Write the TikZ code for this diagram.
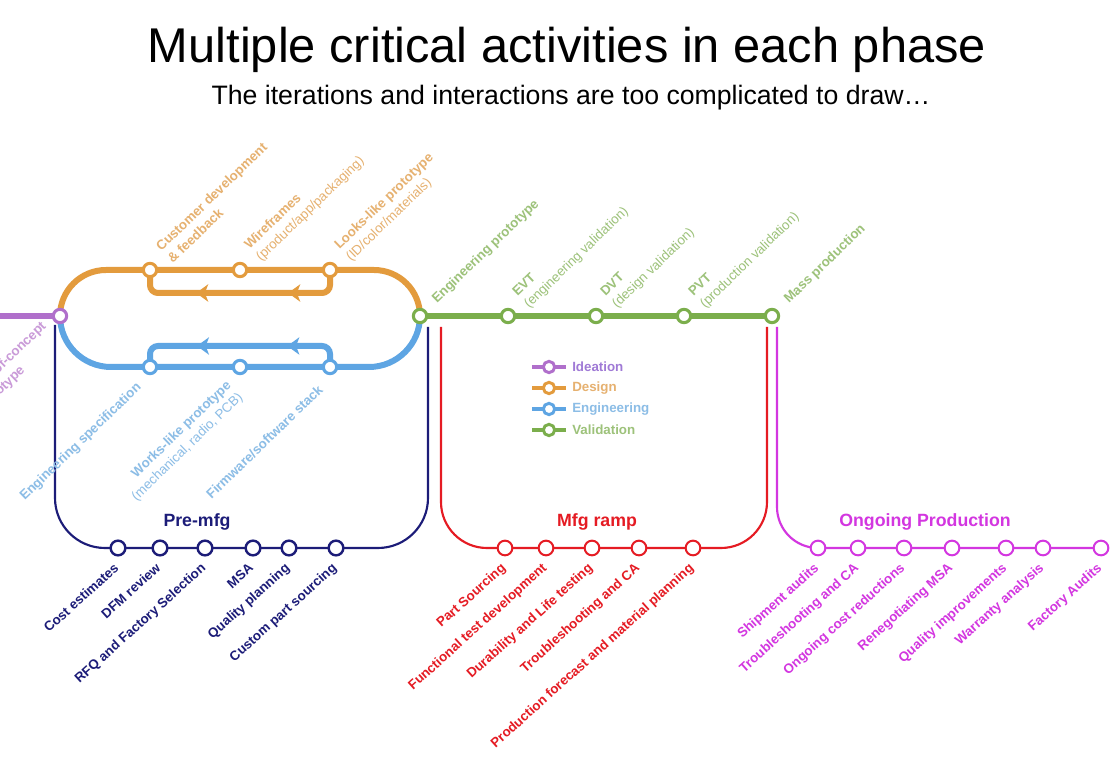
\documentclass[tikz,border=0pt]{standalone}
\usepackage{fontspec}
\setmainfont{Liberation Sans}
\usetikzlibrary{arrows.meta,decorations.markings}
\definecolor{cPurple}{HTML}{B06FCB}
\definecolor{cPurpleT}{HTML}{C99AD8}
\definecolor{cLegPurple}{HTML}{A07AD6}
\definecolor{cOrange}{HTML}{E39B3D}
\definecolor{cOrangeT}{HTML}{E6B170}
\definecolor{cBlue}{HTML}{5EA5E3}
\definecolor{cBlueT}{HTML}{8CBDE6}
\definecolor{cGreen}{HTML}{7BAE4C}
\definecolor{cGreenT}{HTML}{9DC27A}
\definecolor{cNavy}{HTML}{1C1C78}
\definecolor{cRed}{HTML}{E51B23}
\definecolor{cMag}{HTML}{D336E0}
\begin{document}
\begin{tikzpicture}[x=0.75pt,y=-0.75pt,
  fatline/.style={line width=4.5pt},
  thinline/.style={line width=1.6pt},
  bigstn/.style={circle, draw, fill=white, line width=2.3pt, minimum size=10pt, inner sep=0pt},
  smallstn/.style={circle, draw, fill=white, line width=1.5pt, minimum size=11pt, inner sep=0pt},
  toplab/.style={rotate=44, anchor=south west, align=left, inner sep=1pt, font=\bfseries\fontsize{10pt}{12.5pt}\selectfont},
  blulab/.style={rotate=44, anchor=north east, align=right, inner sep=1pt, font=\bfseries\fontsize{10pt}{12.5pt}\selectfont},
  botlab/.style={rotate=42, anchor=north east, inner sep=1pt, font=\bfseries\fontsize{10pt}{12pt}\selectfont},
  phase/.style={font=\bfseries\fontsize{13.3pt}{16pt}\selectfont},
  legtext/.style={anchor=west, inner sep=0pt, font=\bfseries\fontsize{10pt}{12pt}\selectfont},
  legstn/.style={circle, draw, fill=white, line width=2.2pt, minimum size=8.5pt, inner sep=0pt},
  backarrows/.style={postaction={decorate, decoration={markings,
     mark=at position 0.28 with {\arrow{Stealth[length=9pt,width=13pt,inset=2.5pt]}},
     mark=at position 0.70 with {\arrow{Stealth[length=9pt,width=13pt,inset=2.5pt]}}}}}
]
\useasboundingbox (0,0) rectangle (1118,762);
\fill[white] (0,0) rectangle (1118,762);
\begin{scope}
\clip (0,0) rectangle (1118,762);

% titles
\node[font=\fontsize{36.6pt}{40pt}\selectfont] (title) at (567,50) {Multiple critical activities in each phase};
\node[font=\fontsize{20pt}{24pt}\selectfont] (subtitle) at (571,98) {The iterations and interactions are too complicated to draw…};

% coordinates
\coordinate (pL) at (0,316);
\coordinate (P) at (60,316);
\coordinate (o1) at (150,270);
\coordinate (o2) at (240,270);
\coordinate (o3) at (330,270);
\coordinate (oloop) at (240,293);
\coordinate (b1) at (150,367);
\coordinate (b2) at (240,367);
\coordinate (b3) at (330,367);
\coordinate (bloop) at (240,346);
\coordinate (G1) at (420,316);
\coordinate (G2) at (508,316);
\coordinate (G3) at (596,316);
\coordinate (G4) at (684,316);
\coordinate (G5) at (772,316);
\coordinate (nTL) at (55,325);
\coordinate (nTR) at (428,327);
\coordinate (n1) at (118,548);
\coordinate (n2) at (160,548);
\coordinate (n3) at (205,548);
\coordinate (n4) at (253,548);
\coordinate (n5) at (289,548);
\coordinate (n6) at (336,548);
\coordinate (rTL) at (441,327);
\coordinate (rTR) at (767,327);
\coordinate (r1) at (505,548);
\coordinate (r2) at (546,548);
\coordinate (r3) at (592,548);
\coordinate (r4) at (639,548);
\coordinate (r5) at (693,548);
\coordinate (mT) at (777,327);
\coordinate (m1) at (818,548);
\coordinate (m2) at (858,548);
\coordinate (m3) at (904,548);
\coordinate (m4) at (952,548);
\coordinate (m5) at (1006,548);
\coordinate (m6) at (1043,548);
\coordinate (m7) at (1101,548);

% lines
\draw[fatline, cPurple] (pL) -- (P);
\draw[fatline, cOrange] (P) arc[start angle=180, end angle=270, radius=46] -- (o1) -- (o2) -- (o3) -- (374,270) arc[start angle=270, end angle=360, radius=46];
\draw[fatline, cOrange, rounded corners=6, backarrows] (o3) |- (oloop) -| (o1);
\draw[fatline, cBlue] (P) arc[start angle=180, end angle=90, radius=51] -- (b1) -- (b2) -- (b3) -- (369,367) arc[start angle=90, end angle=0, radius=51];
\draw[fatline, cBlue, rounded corners=6, backarrows] (b3) |- (bloop) -| (b1);
\draw[fatline, cGreen] (G1) -- (G5);
\draw[thinline, cNavy] (nTL) -- (55,498) arc[start angle=180, end angle=90, radius=50] -- (n1) -- (n6) -- (378,548) arc[start angle=90, end angle=0, radius=50] -- (nTR);
\draw[thinline, cRed] (rTL) -- (441,502) arc[start angle=180, end angle=90, radius=46] -- (r1) -- (r5) -- (721,548) arc[start angle=90, end angle=0, radius=46] -- (rTR);
\draw[thinline, cMag] (mT) -- (777,507) arc[start angle=180, end angle=90, radius=41] -- (m7);

% stations
\node[bigstn, draw=cPurple] (sP) at (P) {};
\foreach \c in {o1,o2,o3} \node[bigstn, draw=cOrange] (s\c) at (\c) {};
\foreach \c in {b1,b2,b3} \node[bigstn, draw=cBlue] (s\c) at (\c) {};
\foreach \c in {G1,G2,G3,G4,G5} \node[bigstn, draw=cGreen] (s\c) at (\c) {};
\foreach \c in {n1,n2,n3,n4,n5,n6} \node[smallstn, draw=cNavy, line width=1.8pt] (s\c) at (\c) {};
\foreach \c in {r1,r2,r3,r4,r5} \node[smallstn, draw=cRed] (s\c) at (\c) {};
\foreach \c in {m1,m2,m3,m4,m5,m6,m7} \node[smallstn, draw=cMag] (s\c) at (\c) {};

% design labels
\node[toplab, text=cOrangeT] (lo1) at ([shift={(23,-4)}]o1) {Customer development\\\& feedback};
\node[toplab, text=cOrangeT] (lo2) at ([shift={(23,-4)}]o2) {Wireframes\\{\mdseries (product/app/packaging)}};
\node[toplab, text=cOrangeT] (lo3) at ([shift={(23,-4)}]o3) {Looks-like prototype\\{\mdseries (ID/color/materials)}};
% validation labels
\node[toplab, text=cGreenT] (lg1) at ([shift={(19,-8)}]G1) {Engineering prototype};
\node[toplab, text=cGreenT] (lg2) at ([shift={(23,-3)}]G2) {EVT\\{\mdseries (engineering validation)}};
\node[toplab, text=cGreenT] (lg3) at ([shift={(23,-3)}]G3) {DVT\\{\mdseries (design validation)}};
\node[toplab, text=cGreenT] (lg4) at ([shift={(23,-3)}]G4) {PVT\\{\mdseries (production validation)}};
\node[toplab, text=cGreenT] (lg5) at ([shift={(19,-8)}]G5) {Mass production};
% engineering labels
\node[blulab, text=cBlueT] (lb1) at ([shift={(-15,12)}]b1) {Engineering specification};
\node[blulab, text=cBlueT] (lb2) at ([shift={(-15,10)}]b2) {Works-like prototype\\{\mdseries (mechanical, radio, PCB)}};
\node[blulab, text=cBlueT] (lb3) at ([shift={(-13,15)}]b3) {Firmware/software stack};
% ideation label
\node[blulab, align=left, text=cPurpleT] (lp) at ([shift={(-20,2)}]P) {Proof-of-concept\\prototype};

% phase titles
\node[phase, text=cNavy] (tpre) at (197,522) {Pre-mfg};
\node[phase, text=cRed] (tmfg) at (597,522) {Mfg ramp};
\node[phase, text=cMag] (tong) at (925,522) {Ongoing Production};

% pre-mfg labels
\node[botlab, text=cNavy] (ln1) at ([shift={(-5,12)}]n1) {Cost estimates};
\node[botlab, text=cNavy] (ln2) at ([shift={(-5,12)}]n2) {DFM review};
\node[botlab, text=cNavy] (ln3) at ([shift={(-5,12)}]n3) {RFQ and Factory Selection};
\node[botlab, text=cNavy] (ln4) at ([shift={(-5,12)}]n4) {MSA};
\node[botlab, text=cNavy] (ln5) at ([shift={(-5,12)}]n5) {Quality planning};
\node[botlab, text=cNavy] (ln6) at ([shift={(-5,12)}]n6) {Custom part sourcing};
% mfg ramp labels
\node[botlab, text=cRed] (lr1) at ([shift={(-5,12)}]r1) {Part Sourcing};
\node[botlab, text=cRed] (lr2) at ([shift={(-5,12)}]r2) {Functional test development};
\node[botlab, text=cRed] (lr3) at ([shift={(-5,12)}]r3) {Durability and Life testing};
\node[botlab, text=cRed] (lr4) at ([shift={(-5,12)}]r4) {Troubleshooting and CA};
\node[botlab, text=cRed] (lr5) at ([shift={(-5,12)}]r5) {Production forecast and material planning};
% ongoing labels
\node[botlab, text=cMag] (lm1) at ([shift={(-5,12)}]m1) {Shipment audits};
\node[botlab, text=cMag] (lm2) at ([shift={(-5,12)}]m2) {Troubleshooting and CA};
\node[botlab, text=cMag] (lm3) at ([shift={(-5,12)}]m3) {Ongoing cost reductions};
\node[botlab, text=cMag] (lm4) at ([shift={(-5,12)}]m4) {Renegotiating MSA};
\node[botlab, text=cMag] (lm5) at ([shift={(-5,12)}]m5) {Quality improvements};
\node[botlab, text=cMag] (lm6) at ([shift={(-5,12)}]m6) {Warranty analysis};
\node[botlab, text=cMag] (lm7) at ([shift={(-5,12)}]m7) {Factory Audits};

% legend
\foreach \y/\col/\tcol/\txt/\nm in {367/cPurple/cLegPurple/Ideation/a, 388/cOrange/cOrangeT/Design/b, 409/cBlue/cBlueT/Engineering/c, 430/cGreen/cGreenT/Validation/d}{
  \draw[line width=3.5pt, \col] (532,\y) -- (566,\y);
  \node[legstn, draw=\col] (leg\nm) at (549,\y) {};
  \node[legtext, text=\tcol] (legt\nm) at (572,\y) {\txt};
}
\end{scope}
\end{tikzpicture}
\end{document}
